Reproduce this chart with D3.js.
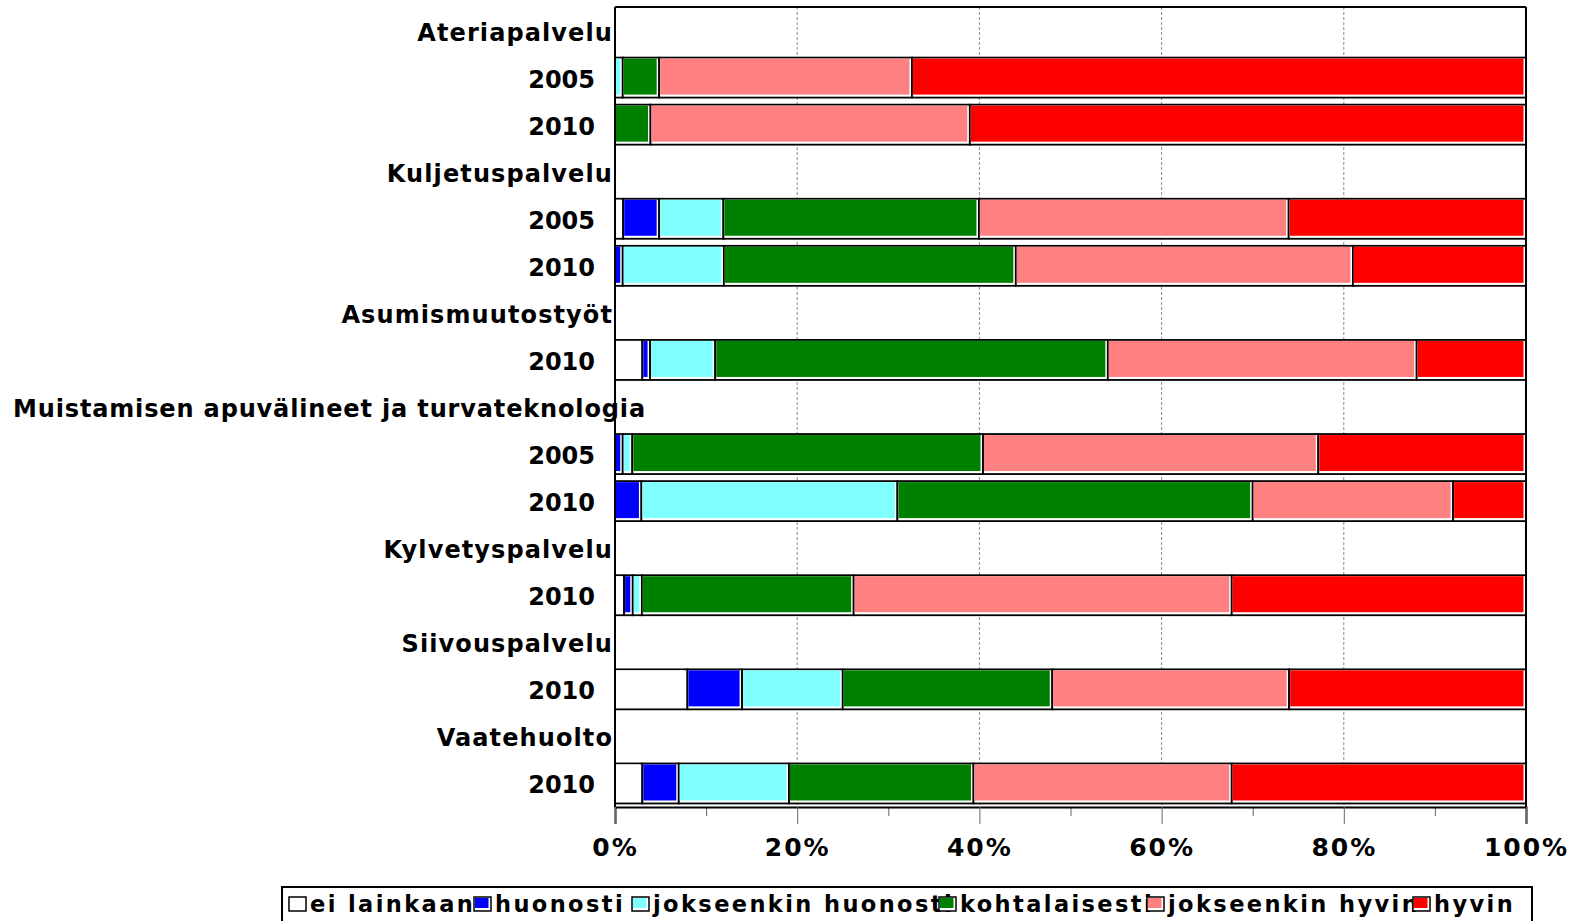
<!DOCTYPE html>
<html>
<head>
<meta charset="utf-8">
<script src="https://cdn.jsdelivr.net/npm/d3@7"></script>
<style>
  body { margin: 0; background: #fff; }
  text { font-family: "DejaVu Sans", Verdana, sans-serif; font-weight: bold; fill: #000; }
</style>
</head>
<body>
<div id="chart"></div>
<script>
// groups and the years shown under each group
var groups = ["Ateriapalvelu", "Kuljetuspalvelu", "Asumismuutostyöt",
  "Muistamisen apuvälineet ja turvateknologia", "Kylvetyspalvelu", "Siivouspalvelu", "Vaatehuolto"];
var groupYears = [["2005", "2010"], ["2005", "2010"], ["2010"], ["2005", "2010"], ["2010"], ["2010"], ["2010"]];

// series (percent of answers), one value per bar in the order above
var seriesNames = ["ei lainkaan", "huonosti", "jokseenkin huonosti", "kohtalaisesti", "jokseenkin hyvin", "hyvin"];
var seriesColors = ["#ffffff", "#0000ff", "#80ffff", "#008000", "#ff8080", "#ff0000"];
var eiLainkaan         = [0,     0,     0.9,   0,     3.0,  0,    0,    1.0,   7.95,  3.0];
var huonosti           = [0,     0,     3.95,  0.85,  0.85, 0.85, 2.9,  0.95,  6.0,   4.0];
var jokseenkinHuonosti = [0.85,  0,     7.05,  11.1,  7.15, 1.05, 28.1, 1.0,   11.05, 12.1];
var kohtalaisesti      = [4.0,   3.9,   28.05, 32.05, 43.1, 38.5, 39.0, 23.25, 23.0,  20.25];
var jokseenkinHyvin    = [27.75, 35.05, 34.0,  37.0,  33.9, 36.8, 22.0, 41.5,  26.0,  28.35];
var hyvin              = [67.4,  61.05, 26.05, 19.0,  12.0, 22.8, 8.0,  32.3,  26.0,  32.3];

var xTicks = [0, 20, 40, 60, 80, 100];
var xMinorTicks = [10, 30, 50, 70, 90];

var svgWidth = 1580;
var svgHeight = 921;
var plot = { left: 615, right: 1526, top: 7, bottom: 807 };

var svg = d3.select("#chart").append("svg")
  .attr("width", svgWidth)
  .attr("height", svgHeight);

// build rows: header rows (no bar) and year rows (bar)
var allSeries = [eiLainkaan, huonosti, jokseenkinHuonosti, kohtalaisesti, jokseenkinHyvin, hyvin];
var rows = [];
var bars = [];
var barIdx = 0;
groups.forEach(function (g, gi) {
  rows.push({ id: "h" + gi, label: g, header: true });
  groupYears[gi].forEach(function (yr) {
    var row = { id: "b" + barIdx, label: yr, header: false };
    seriesNames.forEach(function (s, si) { row[s] = allSeries[si][barIdx]; });
    rows.push(row);
    bars.push(row);
    barIdx++;
  });
});

var x = d3.scaleLinear().domain([0, 100]).range([plot.left, plot.right]);
var y = d3.scaleBand()
  .domain(rows.map(d => d.id))
  .range([plot.top, plot.bottom])
  .paddingInner(0.15)
  .paddingOuter(0.075);

// gridlines
svg.append("g").selectAll("line")
  .data([20, 40, 60, 80])
  .enter().append("line")
  .attr("x1", d => x(d)).attr("x2", d => x(d))
  .attr("y1", plot.top).attr("y2", plot.bottom)
  .attr("stroke", "#8c8c8c")
  .attr("stroke-width", 1)
  .attr("stroke-dasharray", "3,2");

// stacked bars
var stacked = d3.stack().keys(seriesNames)(bars);
var bh = y.bandwidth();
stacked.forEach(function (layer, si) {
  var g = svg.append("g");
  layer.forEach(function (seg) {
    var row = seg.data;
    var x0 = x(seg[0]), x1 = x(seg[1]);
    var w = x1 - x0;
    var y0 = y(row.id);
    g.append("rect")
      .attr("x", x0).attr("y", y0)
      .attr("width", Math.max(w, 0)).attr("height", bh)
      .attr("fill", "#fff")
      .attr("stroke", "#000")
      .attr("stroke-width", 1.8);
    if (w > 4) {
      g.append("rect")
        .attr("x", x0 + 1).attr("y", y0 + 1)
        .attr("width", w - 3.5).attr("height", bh - 4)
        .attr("fill", seriesColors[si]);
    }
  });
});

// frame
svg.append("line").attr("x1", plot.left).attr("x2", plot.right)
  .attr("y1", plot.top).attr("y2", plot.top).attr("stroke", "#000").attr("stroke-width", 2);
svg.append("line").attr("x1", plot.right).attr("x2", plot.right)
  .attr("y1", plot.top).attr("y2", plot.bottom).attr("stroke", "#000").attr("stroke-width", 2);
svg.append("line").attr("x1", plot.left).attr("x2", plot.left)
  .attr("y1", plot.top).attr("y2", plot.bottom).attr("stroke", "#000").attr("stroke-width", 2);

// x axis, major + minor ticks
var minorAxis = svg.append("g")
  .attr("transform", `translate(0, ${plot.bottom})`)
  .call(d3.axisBottom(x).tickValues(xMinorTicks).tickSize(9).tickFormat(""));
minorAxis.select(".domain").remove();
minorAxis.selectAll(".tick line").attr("stroke", "#666");

var xAxis = svg.append("g")
  .attr("transform", `translate(0, ${plot.bottom})`)
  .call(d3.axisBottom(x).tickValues(xTicks).tickSize(17).tickPadding(14).tickFormat(d => d + "%"));
xAxis.select(".domain").attr("stroke", "#000").attr("stroke-width", 2);
xAxis.selectAll(".tick line").attr("stroke", "#666");
xAxis.selectAll(".tick text")
  .attr("font-size", 25)
  .attr("letter-spacing", 2)
  .style("font-family", "'DejaVu Sans', Verdana, sans-serif")
  .style("font-weight", "bold")
  .attr("fill", "#000");

// category labels
var labels = svg.append("g");
rows.forEach(function (r) {
  var cy = y(r.id) + bh / 2 + 10;
  if (r.header) {
    var t = labels.append("text")
      .attr("x", 613)
      .attr("y", cy)
      .attr("font-size", 24)
      .attr("letter-spacing", 1.1)
      .attr("text-anchor", "end")
      .text(r.label);
    var len = t.node().getComputedTextLength();
    if (len > 613 - 13) {
      t.attr("text-anchor", "start").attr("x", 13).attr("letter-spacing", 0.85);
    }
  } else {
    labels.append("text")
      .attr("x", 595)
      .attr("y", cy)
      .attr("font-size", 24)
      .attr("text-anchor", "end")
      .text(r.label);
  }
});

// legend
var legendX = [289, 474, 632, 939, 1147, 1413];
var legend = svg.append("g");
legend.append("rect")
  .attr("x", 282).attr("y", 887)
  .attr("width", 1250).attr("height", 45)
  .attr("fill", "#fff")
  .attr("stroke", "#000")
  .attr("stroke-width", 2);
seriesNames.forEach(function (s, i) {
  legend.append("text")
    .attr("x", legendX[i] + 21)
    .attr("y", 912)
    .attr("font-size", 22.5)
    .attr("letter-spacing", 2.4)
    .text(s);
});
seriesNames.forEach(function (s, i) {
  legend.append("rect")
    .attr("x", legendX[i]).attr("y", 897)
    .attr("width", 17).attr("height", 14)
    .attr("fill", "#fff").attr("stroke", "#000").attr("stroke-width", 1.5);
  legend.append("rect")
    .attr("x", legendX[i] + 1).attr("y", 898)
    .attr("width", 13.5).attr("height", 10)
    .attr("fill", seriesColors[i]);
});
</script>
</body>
</html>
